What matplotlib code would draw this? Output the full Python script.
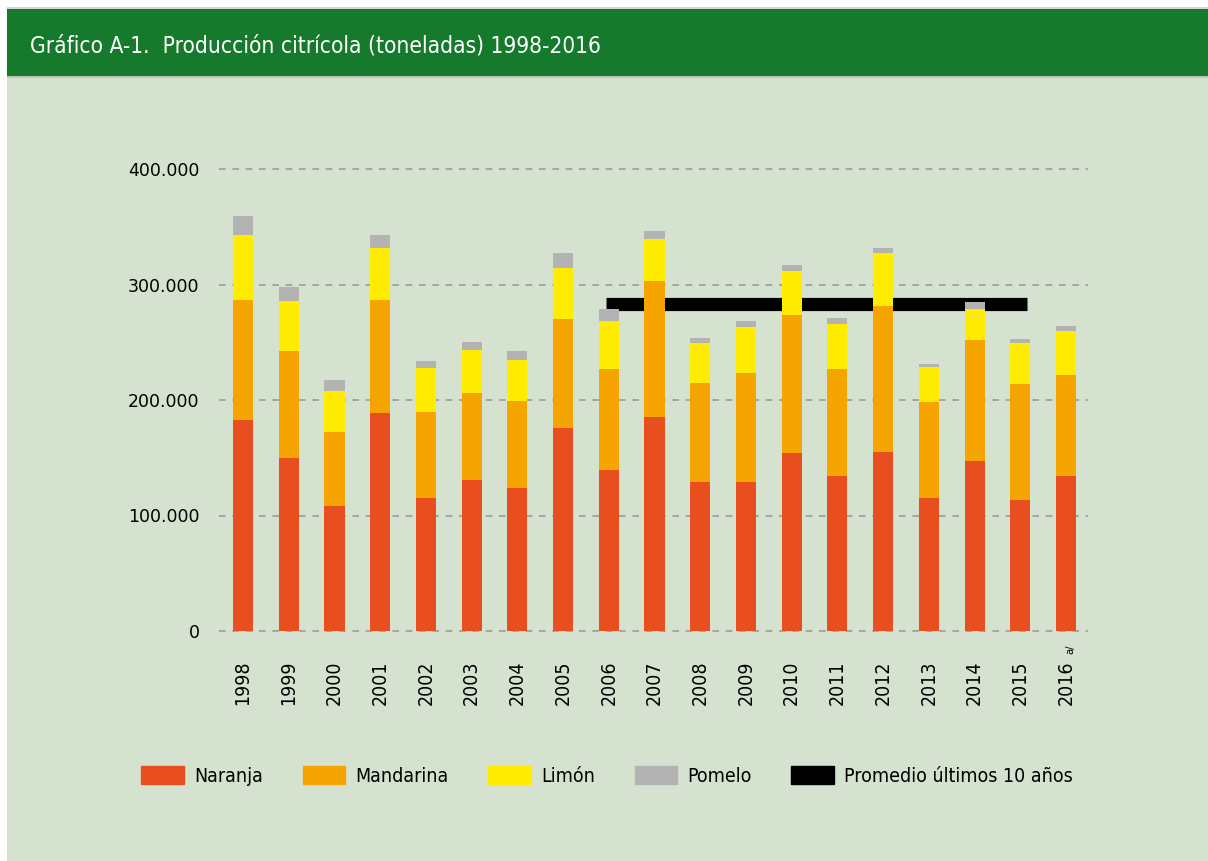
import matplotlib.pyplot as plt
from matplotlib.patches import Rectangle, Patch
from matplotlib.ticker import FuncFormatter
import numpy as np

# datos (toneladas)
years = ['1998', '1999', '2000', '2001', '2002', '2003', '2004', '2005', '2006', '2007',
         '2008', '2009', '2010', '2011', '2012', '2013', '2014', '2015', '2016']
naranja = [183000, 150000, 108000, 189000, 115000, 131000, 124000, 176000, 139000, 185000,
           129000, 129000, 154000, 134000, 155000, 115000, 147000, 113000, 134000]
mandarina = [104000, 92000, 64000, 98000, 75000, 75000, 75000, 94500, 88000, 118000,
             86000, 94500, 120000, 93000, 126000, 83000, 105000, 101000, 88000]
limon = [56000, 44000, 36000, 45000, 38000, 37000, 36000, 44000, 41000, 36000,
         34000, 40000, 38000, 39000, 46000, 31000, 27000, 35000, 38000]
pomelo = [16000, 12000, 9500, 10500, 6000, 7000, 7000, 13000, 10500, 7000,
          5000, 5000, 5000, 5000, 5000, 2600, 6000, 3500, 4300]
promedio = 283000  # promedio 2006-2015

c_nar = '#e94e1e'
c_man = '#f6a500'
c_lim = '#ffec00'
c_pom = '#b3b3b3'
bg = '#d6e2d0'
green = '#167a2c'

W, H = 1208, 861
fig = plt.figure(figsize=(W / 100, H / 100), dpi=100, facecolor='white')

# fondo y barra de titulo
fig.add_artist(Rectangle((7 / W, 0), 1, 1 - 9 / H, transform=fig.transFigure,
                         facecolor=bg, edgecolor='none', zorder=0))
fig.add_artist(Rectangle((7 / W, 1 - 9 / H), 1, 2 / H, transform=fig.transFigure,
                         facecolor='#d4d4d4', edgecolor='none', zorder=0))
fig.add_artist(Rectangle((7 / W, 1 - 76 / H), 1, 67 / H, transform=fig.transFigure,
                         facecolor=green, edgecolor='none', zorder=1))
fig.add_artist(Rectangle((7 / W, 1 - 78 / H), 1, 2 / H, transform=fig.transFigure,
                         facecolor='#b9c4b5', edgecolor='none', zorder=1))
fig.text(30 / W, 1 - 46 / H, 'Gráfico A-1.  Producción citrícola (toneladas) 1998-2016',
         color='white', fontsize=16.3, family='DejaVu Sans', stretch='condensed',
         ha='left', va='center')

ax = fig.add_axes([219 / W, 1 - 631 / H, (1088 - 219) / W, (631 - 169) / H])
ax.set_facecolor('none')
for s in ax.spines.values():
    s.set_visible(False)

x = np.arange(len(years))
b1 = np.array(naranja)
b2 = b1 + np.array(mandarina)
b3 = b2 + np.array(limon)
wd = 0.44
ax.bar(x, naranja, wd, color=c_nar, zorder=3)
ax.bar(x, mandarina, wd, bottom=b1, color=c_man, zorder=3)
ax.bar(x, limon, wd, bottom=b2, color=c_lim, zorder=3)
ax.bar(x, pomelo, wd, bottom=b3, color=c_pom, zorder=3)
ax.hlines(promedio, 7.94, 17.15, color='black', linewidth=9.5, zorder=2)

ax.set_xlim(-0.525, 18.48)
ax.set_ylim(0, 400000)
ax.set_yticks([0, 100000, 200000, 300000, 400000])
ax.yaxis.set_major_formatter(FuncFormatter(lambda v, p: f'{int(v):,}'.replace(',', '.')))
ax.yaxis.grid(True, color='#9c9c9c', linestyle=(0, (4, 4)), linewidth=1.2, zorder=1)
for gl in ax.get_ygridlines():
    gl.set_clip_on(False)
ax.set_axisbelow(True)
ax.tick_params(axis='y', length=0, pad=14, labelsize=12.5)
ax.set_xticks(x)
ax.set_xticklabels(years, rotation=90, stretch='condensed', fontsize=14)
ax.tick_params(axis='x', length=0, pad=21)
ax.text(18.1, -0.03, 'a/', transform=ax.get_xaxis_transform(), rotation=90,
        fontsize=8, stretch='condensed', ha='center', va='top')

handles = [Patch(color=c_nar, label='Naranja'), Patch(color=c_man, label='Mandarina'),
           Patch(color=c_lim, label='Limón'), Patch(color=c_pom, label='Pomelo'),
           Patch(color='black', label='Promedio últimos 10 años')]
fig.legend(handles=handles, ncol=5, loc='center', bbox_to_anchor=(607 / W, 1 - 776 / H),
           frameon=False, prop={'family': 'DejaVu Sans', 'stretch': 'condensed', 'size': 14},
           handlelength=2.2, handleheight=1.03, handletextpad=0.5, columnspacing=2.05)

fig.savefig('out.png', dpi=100, facecolor='white')
